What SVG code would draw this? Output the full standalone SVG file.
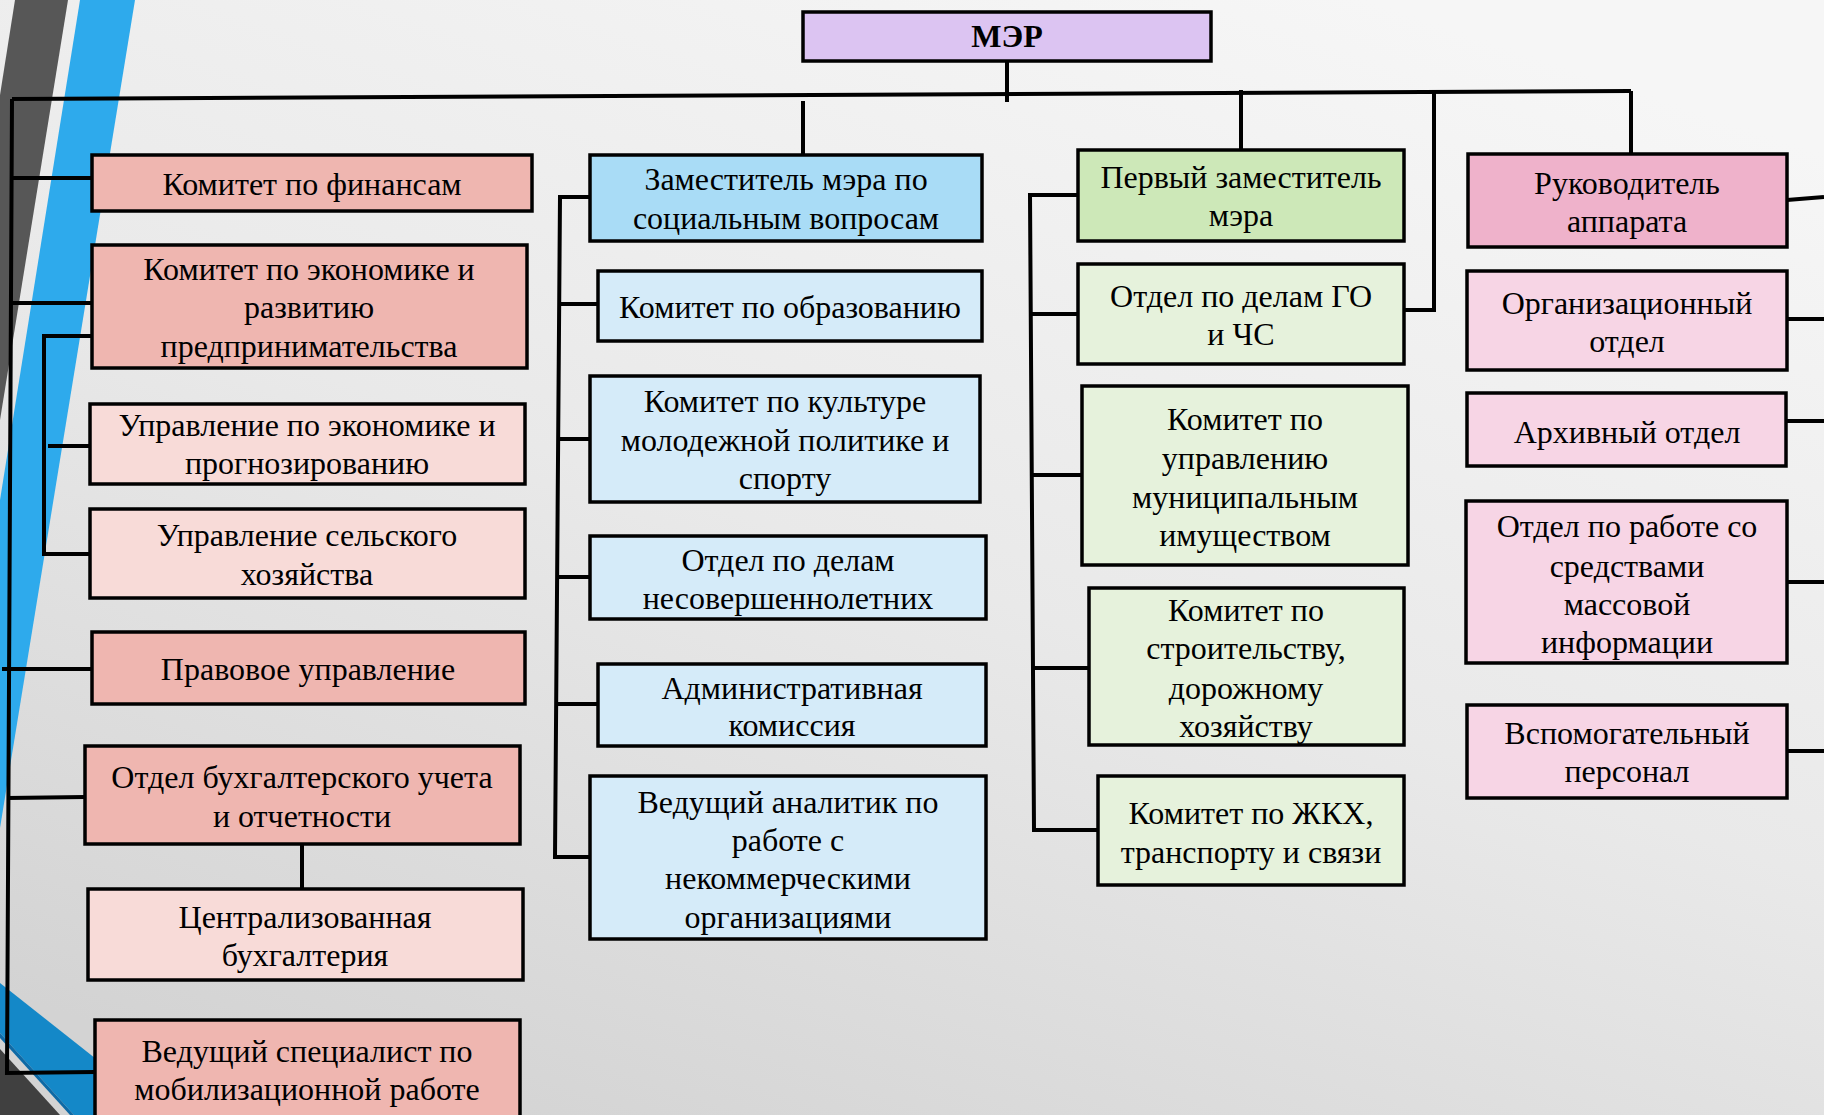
<svg xmlns="http://www.w3.org/2000/svg" width="1824" height="1115" viewBox="0 0 1824 1115">
<defs>
<linearGradient id="bg" x1="0.75" y1="0" x2="0.2" y2="1">
<stop offset="0" stop-color="#f6f6f6"/>
<stop offset="0.5" stop-color="#e9e9e9"/>
<stop offset="1" stop-color="#d3d3d3"/>
</linearGradient>
<style>
.box{stroke:#000;stroke-width:3.5}
.n1{fill:#efb6b0}.n2{fill:#f8dbd8}
.b1{fill:#a9dcf6}.b2{fill:#d5ebf9}
.g1{fill:#cde8b8}.g2{fill:#e6f2dc}
.p1{fill:#efb2cb}.p2{fill:#f7d5e5}
.mayor{fill:#dcc4f2}
text{font-family:"Liberation Serif","Times New Roman",serif;font-size:32px;fill:#000;text-anchor:middle}
.bold{font-weight:bold}
#connectors path{fill:none;stroke:#000;stroke-width:4}
</style>
</defs>
<rect x="0" y="0" width="1824" height="1115" fill="url(#bg)"/>
<g id="decor">
<polygon points="15,0 68,0 0,420 0,95" fill="#575757"/>
<polygon points="80,0 135,0 0,828 0,500" fill="#2eaaec"/>
<polygon points="0,983 167,1115 74,1115 0,1033" fill="#1488c8"/>
<polygon points="0,1033 74,1115 70,1115 0,1038" fill="#0e6aa6"/>
<polygon points="0,1049 60,1115 0,1115" fill="#404040"/>
</g>
<g id="connectors">
<path d="M12,99 L1631,91"/>
<path d="M12,99 L7,1073 L95,1072"/>
<path d="M12,178 L92,178"/>
<path d="M11,303 L92,303"/>
<path d="M92,336 L44,336 L44,554 L90,554"/>
<path d="M48,446 L90,446"/>
<path d="M2,669 L92,669"/>
<path d="M7,798 L85,797"/>
<path d="M302,844 L302,889"/>
<path d="M1007,61 L1007,102"/>
<path d="M803,101 L803,155"/>
<path d="M590,197 L560,197 L555,857 L590,857"/>
<path d="M558,304 L598,304"/>
<path d="M557,439 L590,439"/>
<path d="M556,577 L590,577"/>
<path d="M556,704 L598,704"/>
<path d="M1241,90 L1241,150"/>
<path d="M1078,195 L1030,195 L1034,830 L1098,830"/>
<path d="M1032,314 L1078,314"/>
<path d="M1033,475 L1082,475"/>
<path d="M1033,668 L1089,668"/>
<path d="M1434,92 L1434,310 L1404,310"/>
<path d="M1631,91 L1631,154"/>
<path d="M1787,200 L1824,197"/>
<path d="M1787,319 L1824,319"/>
<path d="M1787,421 L1824,421"/>
<path d="M1787,582 L1824,582"/>
<path d="M1787,751 L1824,751"/>
</g>
<g id="mayor"><rect class="box mayor" x="803" y="12" width="408" height="49"/><text class="bold" x="1007" y="47">МЭР</text></g>
<g id="n1"><rect class="box n1" x="92" y="155" width="440" height="56"/><text x="312" y="195">Комитет по финансам</text></g>
<g id="n2"><rect class="box n1" x="92" y="245" width="435" height="123"/><text x="309" y="280">Комитет по экономике и</text><text x="309" y="318">развитию</text><text x="309" y="357">предпринимательства</text></g>
<g id="n3"><rect class="box n2" x="90" y="404" width="435" height="80"/><text x="307" y="436">Управление по экономике и</text><text x="307" y="474">прогнозированию</text></g>
<g id="n4"><rect class="box n2" x="90" y="509" width="435" height="89"/><text x="307" y="546">Управление сельского</text><text x="307" y="585">хозяйства</text></g>
<g id="n5"><rect class="box n1" x="92" y="632" width="433" height="72"/><text x="308" y="680">Правовое управление</text></g>
<g id="n6"><rect class="box n1" x="85" y="746" width="435" height="98"/><text x="302" y="788">Отдел бухгалтерского учета</text><text x="302" y="827">и отчетности</text></g>
<g id="n7"><rect class="box n2" x="88" y="889" width="435" height="91"/><text x="305" y="928">Централизованная</text><text x="305" y="966">бухгалтерия</text></g>
<g id="n8"><rect class="box n1" x="95" y="1020" width="425" height="110"/><text x="307" y="1062">Ведущий специалист по</text><text x="307" y="1100">мобилизационной работе</text></g>
<g id="bA"><rect class="box b1" x="590" y="155" width="392" height="86"/><text x="786" y="190">Заместитель мэра по</text><text x="786" y="229">социальным вопросам</text></g>
<g id="bB"><rect class="box b2" x="598" y="271" width="384" height="70"/><text x="790" y="318">Комитет по образованию</text></g>
<g id="bC"><rect class="box b2" x="590" y="376" width="390" height="126"/><text x="785" y="412">Комитет по культуре</text><text x="785" y="451">молодежной политике и</text><text x="785" y="489">спорту</text></g>
<g id="bD"><rect class="box b2" x="590" y="536" width="396" height="83"/><text x="788" y="571">Отдел по делам</text><text x="788" y="609">несовершеннолетних</text></g>
<g id="bE"><rect class="box b2" x="598" y="664" width="388" height="82"/><text x="792" y="699">Административная</text><text x="792" y="736">комиссия</text></g>
<g id="bF"><rect class="box b2" x="590" y="776" width="396" height="163"/><text x="788" y="813">Ведущий аналитик по</text><text x="788" y="851">работе с</text><text x="788" y="889">некоммерческими</text><text x="788" y="928">организациями</text></g>
<g id="gG"><rect class="box g1" x="1078" y="150" width="326" height="91"/><text x="1241" y="188">Первый заместитель</text><text x="1241" y="226">мэра</text></g>
<g id="gH"><rect class="box g2" x="1078" y="264" width="326" height="100"/><text x="1241" y="307">Отдел по делам ГО</text><text x="1241" y="345">и ЧС</text></g>
<g id="gI"><rect class="box g2" x="1082" y="386" width="326" height="179"/><text x="1245" y="430">Комитет по</text><text x="1245" y="469">управлению</text><text x="1245" y="508">муниципальным</text><text x="1245" y="546">имуществом</text></g>
<g id="gJ"><rect class="box g2" x="1089" y="588" width="315" height="157"/><text x="1246" y="621">Комитет по</text><text x="1246" y="659">строительству,</text><text x="1246" y="699">дорожному</text><text x="1246" y="737">хозяйству</text></g>
<g id="gK"><rect class="box g2" x="1098" y="776" width="306" height="109"/><text x="1251" y="824">Комитет по ЖКХ,</text><text x="1251" y="863">транспорту и связи</text></g>
<g id="p1"><rect class="box p1" x="1468" y="154" width="319" height="93"/><text x="1627" y="194">Руководитель</text><text x="1627" y="232">аппарата</text></g>
<g id="p2"><rect class="box p2" x="1467" y="271" width="320" height="99"/><text x="1627" y="314">Организационный</text><text x="1627" y="352">отдел</text></g>
<g id="p3"><rect class="box p2" x="1467" y="393" width="319" height="73"/><text x="1627" y="443">Архивный отдел</text></g>
<g id="p4"><rect class="box p2" x="1466" y="501" width="321" height="162"/><text x="1627" y="537">Отдел по работе со</text><text x="1627" y="577">средствами</text><text x="1627" y="615">массовой</text><text x="1627" y="653">информации</text></g>
<g id="p5"><rect class="box p2" x="1467" y="705" width="320" height="93"/><text x="1627" y="744">Вспомогательный</text><text x="1627" y="782">персонал</text></g>
</svg>
